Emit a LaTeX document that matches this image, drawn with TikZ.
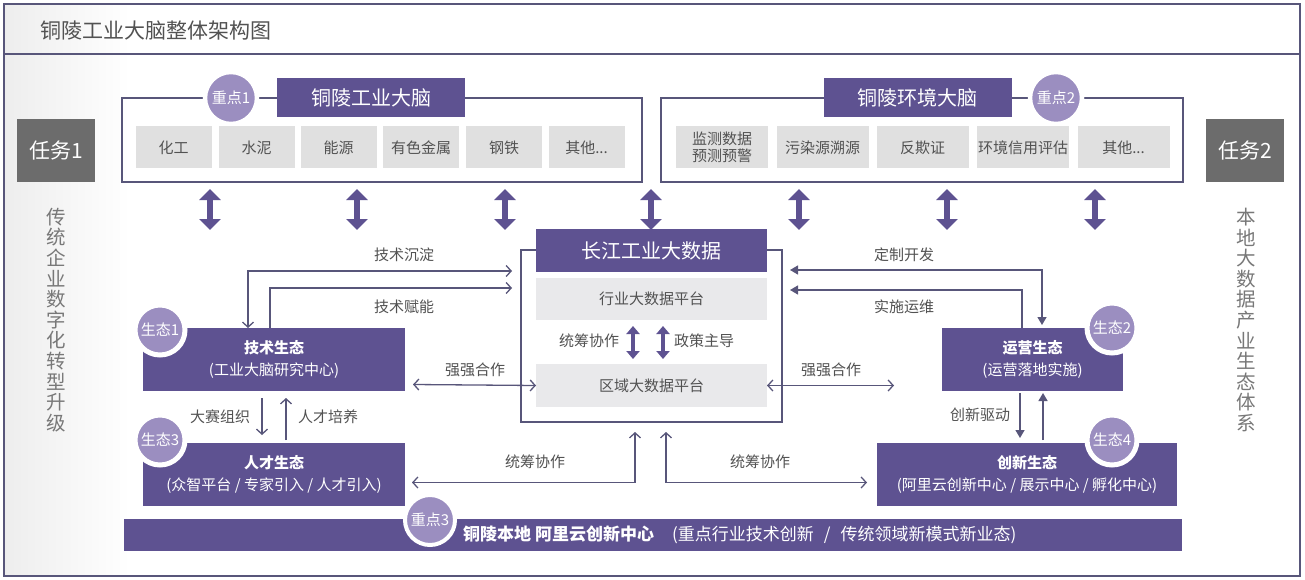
\documentclass[tikz,border=0pt]{standalone}
\usepackage{fontspec}
\setmainfont{Noto Sans CJK SC}
\usetikzlibrary{arrows.meta,calc}
\definecolor{purp}{RGB}{94,82,145}
\definecolor{lpurp}{RGB}{155,142,192}
\definecolor{cellgray}{RGB}{224,224,224}
\definecolor{platgray}{RGB}{233,233,235}
\definecolor{taskgray}{RGB}{108,108,108}
\definecolor{linec}{RGB}{88,86,122}
\definecolor{txt}{RGB}{82,82,82}
\definecolor{vtxt}{RGB}{120,120,120}
\newcommand\fsz[2]{\fontsize{#1}{#2}\selectfont}
\begin{document}
\begin{tikzpicture}[x=1pt,y=-1pt,
  purpbox/.style={fill=purp,text=white,inner sep=0pt,outer sep=0pt,align=center},
  cell/.style={fill=cellgray,text=txt,inner sep=0pt,outer sep=0pt,font=\fsz{15}{18},align=center,minimum height=42pt},
  plat/.style={fill=platgray,text=txt,inner sep=0pt,outer sep=0pt,font=\fsz{15}{18},minimum width=231pt,anchor=north west},
  task/.style={fill=taskgray,text=white,inner sep=0pt,minimum width=78pt,minimum height=63pt,font=\fsz{21}{24}},
  badge/.style={circle,fill=lpurp,draw=white,line width=4.5pt,minimum size=52pt,inner sep=0pt,text=white,font=\fsz{15}{18}},
  frame/.style={draw=linec,line width=1.1pt,inner sep=0pt,outer sep=0pt,anchor=north west},
  lbl/.style={text=txt,font=\fsz{15}{18},inner sep=1pt},
  vtext/.style={text=vtxt,font=\fsz{19.5}{20.6},align=center,inner sep=0pt},
  eco/.style={purpbox,font=\fsz{15}{22},anchor=north west,minimum height=63pt},
  bigarrow/.style={draw=purp,line width=6pt,{Triangle[length=11pt,width=21pt]}-{Triangle[length=11pt,width=21pt]}},
  midarrow/.style={draw=purp,line width=4pt,{Triangle[length=8pt,width=13pt]}-{Triangle[length=8pt,width=13pt]}},
  barb/.style={draw=linec,line width=1.3pt,-{Straight Barb[length=5pt,width=11pt]}},
  dbarb/.style={draw=linec,line width=1.3pt,{Straight Barb[length=5pt,width=11pt]}-{Straight Barb[length=5pt,width=11pt]}},
  tri/.style={draw=linec,line width=1.3pt,-{Triangle[length=8pt,width=9pt]}},
  dtri/.style={draw=linec,line width=1.3pt,{Triangle[length=8pt,width=9pt]}-{Triangle[length=8pt,width=9pt]}}
]
\useasboundingbox (0,0) rectangle (1305,580);
\fill[white] (0,0) rectangle (1305,580);
\shade[left color=black!7,right color=white] (4,4) rectangle (130,576);
% outer frame and title
\draw[linec,line width=1.3pt] (4,4) rectangle (1300,576);
\draw[linec,line width=1.3pt] (4,54) -- (1300,54);
\node[anchor=west,text=txt,font=\fsz{21}{24},inner sep=0pt] (title) at (40,31) {铜陵工业大脑整体架构图};

% tasks and side texts
\node[task] (t1) at (56,151) {任务1};
\node[task] (t2) at (1245,151) {任务2};
\node[vtext] (v1) at (56,320) {传\\统\\企\\业\\数\\字\\化\\转\\型\\升\\级};
\node[vtext] (v2) at (1246,320) {本\\地\\大\\数\\据\\产\\业\\生\\态\\体\\系};

% industrial brain
\node[frame,minimum width=520pt,minimum height=84pt] (ind) at (122,98) {};
\node[purpbox,minimum width=188pt,minimum height=39pt,font=\fsz{20}{24}] (indt) at (371,97.5) {铜陵工业大脑};
\node[badge] (k1) at (231,98) {重点1};
\node[cell,minimum width=76pt] (c1) at (173.5,147.5) {化工};
\node[cell,minimum width=76pt] (c2) at (256.5,147.5) {水泥};
\node[cell,minimum width=76pt] (c3) at (338.5,147.5) {能源};
\node[cell,minimum width=76pt] (c4) at (421,147.5) {有色金属};
\node[cell,minimum width=76pt] (c5) at (504,147.5) {钢铁};
\node[cell,minimum width=76pt] (c6) at (586.5,147.5) {其他...};

% environment brain
\node[frame,minimum width=522pt,minimum height=84pt] (env) at (661,98) {};
\node[purpbox,minimum width=188pt,minimum height=39pt,font=\fsz{20}{24}] (envt) at (917.5,97.5) {铜陵环境大脑};
\node[badge] (k2) at (1056,98) {重点2};
\node[cell,minimum width=92pt,font=\fsz{15}{17}] (e1) at (722,147.5) {监测数据\\预测预警};
\node[cell,minimum width=92pt] (e2) at (822.5,147.5) {污染源溯源};
\node[cell,minimum width=92pt] (e3) at (922.5,147.5) {反欺证};
\node[cell,minimum width=92pt] (e4) at (1023,147.5) {环境信用评估};
\node[cell,minimum width=92pt] (e5) at (1123.5,147.5) {其他...};

% big double arrows
\foreach \x in {210,357,505,651,799,947,1095}
  \draw[bigarrow] (\x,189) -- (\x,230);

% central block
\node[frame,minimum width=261pt,minimum height=172pt] (cf) at (521,250) {};
\node[purpbox,minimum width=231pt,minimum height=43pt,font=\fsz{20}{24},anchor=north west] (cj) at (536,229) {长江工业大数据};
\node[plat,minimum height=42pt] (hy) at (536,278) {行业大数据平台};
\node[plat,minimum height=43pt] (qy) at (536,364) {区域大数据平台};
\draw[midarrow] (633,326) -- (633,359);
\draw[midarrow] (663,326) -- (663,359);
\node[lbl] (l1) at (589,341) {统筹协作};
\node[lbl] (l2) at (704,341) {政策主导};

% ecosystems
\node[eco,minimum width=262pt] (js) at (143,328) {\textbf{技术生态}\\(工业大脑研究中心)};
\node[badge,minimum size=50pt,line width=5pt] (s1) at (160,330) {生态1};
\node[eco,minimum width=181pt] (yy) at (942,328) {\textbf{运营生态}\\(运营落地实施)};
\node[badge,minimum size=50pt,line width=5pt] (s2) at (1112,328) {生态2};
\node[eco,minimum width=262pt] (rc) at (143,443) {\textbf{人才生态}\\(众智平台 / 专家引入 / 人才引入)};
\node[badge,minimum size=50pt,line width=5pt] (s3) at (160,440) {生态3};
\node[eco,minimum width=300pt] (cx) at (877,443) {\textbf{创新生态}\\(阿里云创新中心 / 展示中心 / 孵化中心)};
\node[badge,minimum size=50pt,line width=5pt] (s4) at (1112,440) {生态4};

% bottom bar
\node[purpbox,minimum width=1058pt,minimum height=32pt,anchor=north west] (bar) at (124,519) {};
\node[anchor=west,text=white,font=\fsz{17}{20},inner sep=0pt] (bart) at (463,535) {\textbf{铜陵本地 阿里云创新中心}\hspace{18pt}(重点行业技术创新\hspace{10pt}/\hspace{10pt}传统领域新模式新业态)};
\node[badge,minimum size=50pt,line width=4pt] (k3) at (430,520) {重点3};

% left connectors
\coordinate (jsA) at ($(js.north west)+(105,0)$);
\coordinate (jsB) at ($(js.north west)+(127,0)$);
\coordinate (cfA) at ($(cf.north west)+(-9,21)$);
\coordinate (cfB) at ($(cf.north west)+(-9,38)$);
\draw[dbarb] (jsA) |- (cfA);
\draw[barb] (jsB) |- (cfB);
\node[lbl] (l3) at (404,255) {技术沉淀};
\node[lbl] (l4) at (404,307) {技术赋能};
\draw[dbarb] ($(js.east)+(8,25)$) -- (qy.west);
\node[lbl] (l5) at (475,370) {强强合作};

% right connectors
\coordinate (yyA) at ($(yy.north west)+(100,-3)$);
\coordinate (yyB) at ($(yy.north west)+(80,0)$);
\coordinate (cfC) at ($(cf.north east)+(8,20)$);
\coordinate (cfD) at ($(cf.north east)+(8,40)$);
\draw[dtri] (cfC) -| (yyA);
\draw[tri] (yyB) |- (cfD);
\node[lbl] (l6) at (904,255) {定制开发};
\node[lbl] (l7) at (904,307) {实施运维};
\draw[dbarb] (qy.east) -- ++(127,0) coordinate (qyR);
\node[lbl] (l8) at (831,370) {强强合作};

% vertical connectors between ecosystems
\draw[barb] ($(js.south west)+(119,7)$) -- ($(rc.north west)+(119,-8)$);
\draw[barb] ($(rc.north west)+(143,-3)$) -- ($(js.south west)+(143,7)$);
\node[lbl] (l9) at (220,417) {大赛组织};
\node[lbl] (l10) at (328,417) {人才培养};
\draw[tri] ($(yy.south west)+(78,2)$) -- ($(cx.north west)+(143,-5)$);
\draw[tri] ($(cx.north west)+(166,-3)$) -- ($(yy.south west)+(101,2)$);
\node[lbl] (l11) at (980,415) {创新驱动};

% bottom coordination
\coordinate (cfE) at ($(cf.south west)+(114,10)$);
\coordinate (cfF) at ($(cf.south west)+(145,10)$);
\draw[dbarb] ($(rc.east)+(7,8)$) -| (cfE);
\draw[dbarb] (cfF) |- ($(cx.west)+(-10,8)$);
\node[lbl] (l12) at (535,462) {统筹协作};
\node[lbl] (l13) at (760,462) {统筹协作};
\end{tikzpicture}
\end{document}
